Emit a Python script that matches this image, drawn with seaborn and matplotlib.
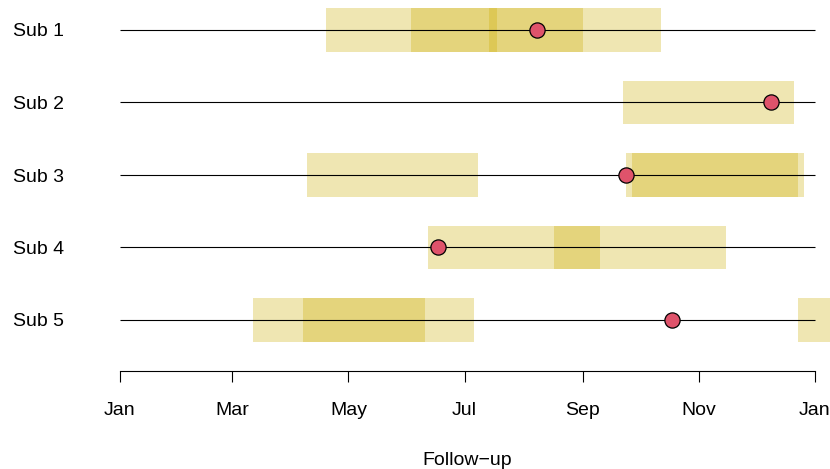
import matplotlib
matplotlib.use("Agg")
import matplotlib.pyplot as plt
import matplotlib.dates as mdates
import pandas as pd
import seaborn as sns

# Subjects, in display order (top to bottom)
subjects = ["Sub 1", "Sub 2", "Sub 3", "Sub 4", "Sub 5"]

# Follow-up period shared by every subject
follow_start = "2021-01-01"
follow_end = "2022-01-01"

# Exposure windows: one row per window, each lasting window_days
window_subject = ["Sub 1", "Sub 1", "Sub 1",
                  "Sub 2",
                  "Sub 3", "Sub 3", "Sub 3",
                  "Sub 4", "Sub 4",
                  "Sub 5", "Sub 5", "Sub 5"]
window_start = ["2021-04-19", "2021-06-03", "2021-07-14",
                "2021-09-22",
                "2021-04-09", "2021-09-24", "2021-09-27",
                "2021-06-12", "2021-08-17",
                "2021-03-12", "2021-04-07", "2021-12-23"]
window_days = 90

# Event date for each subject
event_date = ["2021-08-08", "2021-12-09", "2021-09-24", "2021-06-17", "2021-10-18"]

# Axis ticks
tick_dates = ["2021-01-01", "2021-03-01", "2021-05-01", "2021-07-01",
              "2021-09-01", "2021-11-01", "2022-01-01"]
tick_labels = ["Jan", "Mar", "May", "Jul", "Sep", "Nov", "Jan"]

sns.set_theme(style="white")
plt.rcParams["font.family"] = ["Liberation Sans", "DejaVu Sans"]

row = {s: i + 1 for i, s in enumerate(subjects)}
d0 = mdates.date2num(pd.Timestamp(follow_start))
d1 = mdates.date2num(pd.Timestamp(follow_end))
span = d1 - d0

W, H = 830, 469
fig = plt.figure(figsize=(W / 100, H / 100), dpi=100)

# plot region in pixels (4% padding around the data range)
px_per_day = 695 / span
left_px = 120 - 0.04 * span * px_per_day
width_px = span * 1.08 * px_per_day
row_px = 72.5
height_px = 5.4 * row_px
bottom_px = 370.75
ax = fig.add_axes([left_px / W, (H - bottom_px) / H, width_px / W, height_px / H])

windows = pd.DataFrame({
    "subject": window_subject,
    "start": mdates.date2num(pd.to_datetime(window_start)),
})
windows["y"] = windows["subject"].map(row)

events = pd.DataFrame({
    "subject": subjects,
    "date": mdates.date2num(pd.to_datetime(event_date)),
})
events["y"] = events["subject"].map(row)

# translucent exposure windows
ax.barh(windows["y"], width=window_days, left=windows["start"], height=0.6,
        color="#CDAD00", alpha=0.3, linewidth=0, zorder=1)

# follow-up lines
ax.hlines([row[s] for s in subjects], d0, d1, color="black", linewidth=0.8, zorder=2)

# events
sns.scatterplot(data=events, x="date", y="y", ax=ax, s=120, color="#DF536B",
                edgecolor="black", linewidth=0.9, zorder=3, legend=False)

ax.set_xlim(d0 - 0.04 * span, d1 + 0.04 * span)
ax.set_ylim(5.7, 0.3)

for side in ["top", "right", "left"]:
    ax.spines[side].set_visible(False)
ax.spines["bottom"].set_bounds(d0, d1)
ax.spines["bottom"].set_linewidth(0.8)
ax.spines["bottom"].set_color("black")

ax.set_xticks(mdates.date2num(pd.to_datetime(tick_dates)))
ax.set_xticklabels(tick_labels)
ax.tick_params(axis="x", bottom=True, direction="out", length=7.7, width=0.8,
               color="black", pad=14.5, labelsize=14, labelcolor="black")

ax.set_yticks([row[s] for s in subjects])
ax.set_yticklabels(subjects)
ax.tick_params(axis="y", left=False, length=0, pad=20, labelsize=14, labelcolor="black")

ax.set_xlabel("")
ax.set_ylabel("")
ax.grid(False)

fig.text((120 + 815) / 2 / W, 1 - 465 / H, "Follow\u2212up", ha="center", va="baseline",
         fontsize=14, color="black")

fig.savefig("out.png", dpi=100)
